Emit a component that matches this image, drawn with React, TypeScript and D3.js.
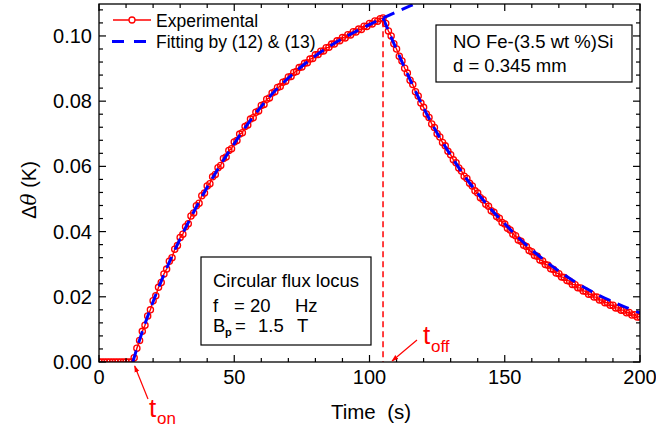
import React from "react";
import * as d3 from "d3";

// ---------- data ----------
const expTime: number[] = d3.range(0, 201, 1);
const expValue: number[] = [
  0, 0, 0, 0, 0, 0, 0, 0, 0, 0, 0, 0, 0,
  0.0013, 0.0042, 0.0066, 0.0094, 0.0113, 0.0141, 0.0160, 0.0188, 0.0203, 0.0229,
  0.0244, 0.0270, 0.0285, 0.0309, 0.0320, 0.0346, 0.0357, 0.0382, 0.0392, 0.0415,
  0.0424, 0.0448, 0.0457, 0.0479, 0.0487, 0.0510, 0.0518, 0.0540, 0.0547, 0.0568,
  0.0575, 0.0596, 0.0603, 0.0624, 0.0629, 0.0649, 0.0654, 0.0675, 0.0679, 0.0699,
  0.0703, 0.0722, 0.0727, 0.0745, 0.0749, 0.0766, 0.0770, 0.0787, 0.0790, 0.0806,
  0.0810, 0.0825, 0.0829, 0.0842, 0.0845, 0.0858, 0.0861, 0.0874, 0.0876, 0.0888,
  0.0891, 0.0903, 0.0905, 0.0916, 0.0918, 0.0929, 0.0931, 0.0942, 0.0943, 0.0953,
  0.0954, 0.0964, 0.0965, 0.0975, 0.0975, 0.0985, 0.0985, 0.0995, 0.0994, 0.1004,
  0.1003, 0.1013, 0.1012, 0.1021, 0.1020, 0.1030, 0.1029, 0.1038, 0.1037, 0.1046,
  0.1045, 0.1053, 0.1055,
  0.1038, 0.1015, 0.1000, 0.0976, 0.0960, 0.0938, 0.0923, 0.0901, 0.0886, 0.0864,
  0.0851, 0.0829, 0.0816, 0.0794, 0.0781, 0.0761, 0.0750, 0.0730, 0.0719, 0.0700,
  0.0690, 0.0673, 0.0663, 0.0646, 0.0636, 0.0620, 0.0611, 0.0595, 0.0586, 0.0570,
  0.0563, 0.0548, 0.0540, 0.0525, 0.0518, 0.0504, 0.0498, 0.0484, 0.0478, 0.0464,
  0.0459, 0.0446, 0.0441, 0.0428, 0.0423, 0.0410, 0.0405, 0.0392, 0.0387, 0.0374,
  0.0370, 0.0358, 0.0354, 0.0342, 0.0338, 0.0327, 0.0324, 0.0313, 0.0310, 0.0299,
  0.0297, 0.0286, 0.0284, 0.0273, 0.0271, 0.0261, 0.0259, 0.0250, 0.0248, 0.0238,
  0.0237, 0.0228, 0.0227, 0.0218, 0.0217, 0.0208, 0.0208, 0.0199, 0.0199, 0.0190,
  0.0190, 0.0182, 0.0182, 0.0174, 0.0174, 0.0166, 0.0166, 0.0159, 0.0159, 0.0151,
  0.0152, 0.0144, 0.0145, 0.0138, 0.0139,
];

const fitHeatTime = [12.5, 15, 20, 25, 30, 35, 40, 45, 50, 55, 60, 65, 70, 75, 80, 85, 90, 95, 100, 105, 110, 115, 120];
const fitHeatValue = [0, 0.0068, 0.0185, 0.0287, 0.0378, 0.046, 0.0536, 0.0606, 0.067, 0.073, 0.0784, 0.0831, 0.0871, 0.0907, 0.0939, 0.0967, 0.0992, 0.1014, 0.1035, 0.1055, 0.1074, 0.1092, 0.1109];

const fitCoolTime = [105, 110, 115, 120, 125, 130, 135, 140, 145, 150, 155, 160, 165, 170, 175, 180, 185, 190, 195, 200];
const fitCoolValue = [0.1055, 0.0958, 0.0866, 0.0779, 0.0702, 0.0634, 0.0572, 0.0517, 0.0468, 0.0424, 0.0382, 0.0344, 0.031, 0.0279, 0.0251, 0.0226, 0.0204, 0.0185, 0.0167, 0.0151];

const xMajorTicks = [0, 50, 100, 150, 200];
const yMajorTicks = [0, 0.02, 0.04, 0.06, 0.08, 0.1];
const yTickLabels = ["0.00", "0.02", "0.04", "0.06", "0.08", "0.10"];
const tOn = 13;
const tOff = 105;
const tOffPeak = 0.1045;

const legendLabels = ["Experimental", "Fitting by (12) & (13)"];
const boxMaterial = ["NO Fe-(3.5 wt %)Si", "d = 0.345 mm"];

// ---------- layout ----------
const W = 656, H = 430;
const L = 99, R = 640, T = 4, B = 362;
const FONT = "'Liberation Sans', Arial, Helvetica, sans-serif";
const RED = "#ff0000";
const BLUE = "#0000ff";

export default function App() {
  const x = d3.scaleLinear().domain([0, 200]).range([L, R]);
  const y = d3.scaleLinear().domain([0, 0.1098]).range([B, T]);

  const xMinor = d3.range(0, 201, 10);
  const yMinor = d3.range(0, 0.1099, 0.004);

  const expPts = expTime.map((t, i) => [t, expValue[i]] as [number, number]);
  const line = d3.line<[number, number]>().x(d => x(d[0])).y(d => y(d[1]));
  const smooth = d3.line<[number, number]>().x(d => x(d[0])).y(d => y(d[1])).curve(d3.curveMonotoneX);
  const heat = fitHeatTime.map((t, i) => [t, fitHeatValue[i]] as [number, number]);
  const cool = fitCoolTime.map((t, i) => [t, fitCoolValue[i]] as [number, number]);

  const axisStroke = "#000";
  const majorLen = 7, minorLen = 4;

  return (
    <svg width={W} height={H} style={{ position: "absolute", left: 0, top: 0, background: "#fff" }} fontFamily={FONT}>
      <defs>
        <clipPath id="plotClip">
          <rect x={L} y={T} width={R - L} height={B - T} />
        </clipPath>
        <marker id="arrowRed" viewBox="0 0 10 10" refX="9" refY="5" markerWidth="7" markerHeight="7" orient="auto-start-reverse" markerUnits="userSpaceOnUse">
          <path d="M0,1.5 L10,5 L0,8.5 z" fill={RED} />
        </marker>
      </defs>

      {/* data */}
      <g clipPath="url(#plotClip)">
        <path d={line(expPts) || ""} fill="none" stroke={RED} strokeWidth={1.4} />
        {expPts.map((d, i) => (
          <circle key={i} cx={x(d[0])} cy={y(d[1])} r={3.1} fill="none" stroke={RED} strokeWidth={1.3} />
        ))}
        <path d={smooth(heat) || ""} fill="none" stroke={BLUE} strokeWidth={3} strokeDasharray="12,8" />
        <path d={smooth(cool) || ""} fill="none" stroke={BLUE} strokeWidth={3} strokeDasharray="12,8" />
      </g>

      {/* t_off dashed line */}
      <line x1={x(tOff)} x2={x(tOff)} y1={y(tOffPeak)} y2={B} stroke={RED} strokeWidth={1.5} strokeDasharray="6,4" />

      {/* frame */}
      <rect x={L} y={T} width={R - L} height={B - T} fill="none" stroke={axisStroke} strokeWidth={1.3} />

      {/* x ticks bottom & top */}
      {xMinor.map(t => {
        const len = xMajorTicks.includes(t) ? majorLen : minorLen;
        return (
          <g key={"xt" + t}>
            <line x1={x(t)} x2={x(t)} y1={B} y2={B - len} stroke={axisStroke} strokeWidth={1.2} />
            <line x1={x(t)} x2={x(t)} y1={T} y2={T + len} stroke={axisStroke} strokeWidth={1.2} />
          </g>
        );
      })}
      {/* y ticks left & right */}
      {yMinor.map((v, i) => {
        const len = i % 5 === 0 ? majorLen : minorLen;
        return (
          <g key={"yt" + i}>
            <line x1={L} x2={L + len} y1={y(v)} y2={y(v)} stroke={axisStroke} strokeWidth={1.2} />
            <line x1={R} x2={R - len} y1={y(v)} y2={y(v)} stroke={axisStroke} strokeWidth={1.2} />
          </g>
        );
      })}

      {/* tick labels */}
      {xMajorTicks.map(t => (
        <text key={"xl" + t} x={x(t)} y={384} textAnchor="middle" fontSize={20} fill="#000">{t}</text>
      ))}
      {yMajorTicks.map((v, i) => (
        <text key={"yl" + i} x={92} y={y(v) + 7} textAnchor="end" fontSize={20} fill="#000">{yTickLabels[i]}</text>
      ))}

      {/* axis titles */}
      <text x={371} y={418.5} textAnchor="middle" fontSize={20.5} fill="#000" style={{ whiteSpace: "pre" }}>{"Time  (s)"}</text>
      <text transform="translate(36,190) rotate(-90)" textAnchor="middle" fontSize={20} fill="#000">
        <tspan>Δ</tspan><tspan fontStyle="italic" fontFamily="'DejaVu Serif', serif">θ</tspan><tspan>{" (K)"}</tspan>
      </text>

      {/* legend */}
      <line x1={113} x2={151} y1={20} y2={20} stroke={RED} strokeWidth={1.3} />
      <circle cx={132} cy={20} r={3} fill="#fff" stroke={RED} strokeWidth={1.3} />
      <text x={156} y={26.5} fontSize={17.5} fill="#000">{legendLabels[0]}</text>
      <line x1={112} x2={146} y1={41.5} y2={41.5} stroke={BLUE} strokeWidth={3} strokeDasharray="12,10" />
      <text x={156} y={47.5} fontSize={17.5} fill="#000">{legendLabels[1]}</text>

      {/* material box */}
      <rect x={436} y={25} width={196} height={57} fill="#fff" stroke="#000" strokeWidth={1.2} />
      <text x={453} y={48} fontSize={18.5} fill="#000">{boxMaterial[0]}</text>
      <text x={453} y={72} fontSize={18.5} fill="#000">{boxMaterial[1]}</text>

      {/* condition box */}
      <rect x={201} y={257} width={170} height={88} fill="#fff" stroke="#000" strokeWidth={1.2} />
      <text x={213} y={286.5} fontSize={18.5} fill="#000">Circular flux locus</text>
      <text x={213} y={311.5} fontSize={18.5} fill="#000">f</text>
      <text x={234} y={311.5} fontSize={18.5} fill="#000">= 20</text>
      <text x={295} y={311.5} fontSize={18.5} fill="#000">Hz</text>
      <text x={213} y={331.5} fontSize={18.5} fill="#000">B</text>
      <text x={225} y={336} fontSize={11} fontWeight="bold" fill="#000">p</text>
      <text x={235} y={331.5} fontSize={18.5} fill="#000">=</text>
      <text x={258} y={331.5} fontSize={18.5} fill="#000">1.5</text>
      <text x={297} y={331.5} fontSize={18.5} fill="#000">T</text>

      {/* t_on annotation */}
      <line x1={148} y1={399} x2={x(tOn) + 0.5} y2={B + 4} stroke={RED} strokeWidth={1.2} markerEnd="url(#arrowRed)" />
      <text x={149} y={417} fontSize={26} fill={RED}>t</text>
      <text x={157} y={424} fontSize={17} fill={RED}>on</text>

      {/* t_off annotation */}
      <line x1={417} y1={340} x2={x(tOff) + 9} y2={B - 1} stroke={RED} strokeWidth={1.2} markerEnd="url(#arrowRed)" />
      <text x={423} y={344} fontSize={26} fill={RED}>t</text>
      <text x={431} y={352} fontSize={17} fill={RED}>off</text>
    </svg>
  );
}
